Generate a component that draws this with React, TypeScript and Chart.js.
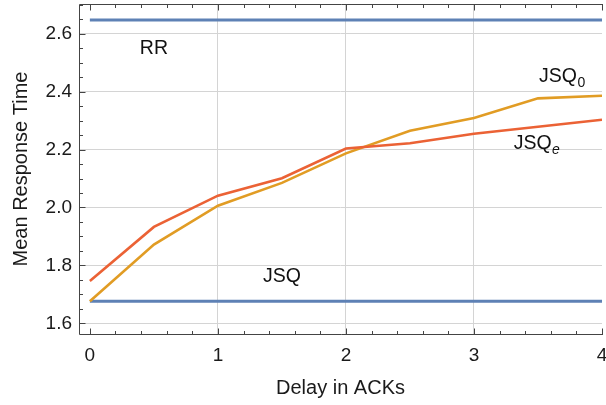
import React, { useEffect, useRef } from "react";
import { Chart, registerables } from "chart.js";

Chart.register(...registerables);

const delays = [0, 0.5, 1, 1.5, 2, 2.5, 3, 3.5, 4];
const jsqEValues = [1.746, 1.933, 2.041, 2.101, 2.204, 2.222, 2.255, 2.279, 2.303];
const jsq0Values = [1.676, 1.872, 2.006, 2.085, 2.187, 2.265, 2.309, 2.377, 2.386];
const rrValue = 2.648;
const jsqValue = 1.676;
const xRange = [0, 4];

const BLUE = "#5E81B5";
const ORANGE = "#E19C24";
const RED = "#EB6235";
const FONT = "'Liberation Sans', Arial, Helvetica, sans-serif";

const annotations = [
  { text: "RR", sub: "", x: 0.5, y: 2.55, align: "center" },
  { text: "JSQ", sub: "", x: 1.5, y: 1.76, align: "center" },
  { text: "JSQ", sub: "0", italic: false, x: 3.508, y: 2.453, align: "left" },
  { text: "JSQ", sub: "e", italic: true, x: 3.31, y: 2.222, align: "left" },
];

const framePlugin = {
  id: "frame",
  afterDatasetsDraw(chart: any) {
    const { ctx, chartArea: a, scales } = chart;
    const xs = scales.x;
    const ys = scales.y;
    ctx.save();
    ctx.strokeStyle = "#444";
    ctx.lineWidth = 1;
    ctx.beginPath();
    const L = Math.round(a.left) + 0.5;
    const B = Math.round(a.bottom) + 0.5;
    const T = Math.round(a.top) + 0.5;
    ctx.moveTo(L, T);
    ctx.lineTo(L, B);
    ctx.lineTo(a.right + 1, B);
    ctx.moveTo(L, T);
    ctx.lineTo(a.right + 1, T);
    for (let i = 0; i <= 20; i++) {
      const v = i * 0.2;
      const px = Math.round(xs.getPixelForValue(v)) + 0.5;
      const major = i % 5 === 0;
      const len = major ? 6 : 3.5;
      ctx.moveTo(px, B);
      ctx.lineTo(px, B - len);
      ctx.moveTo(px, T);
      ctx.lineTo(px, T + len);
    }
    for (let i = 0; i <= 22; i++) {
      const v = 1.6 + i * 0.05;
      if (v > ys.max) break;
      const py = Math.round(ys.getPixelForValue(v)) + 0.5;
      const major = i % 4 === 0;
      const len = major ? 6 : 3.5;
      ctx.moveTo(L, py);
      ctx.lineTo(L + len, py);
    }
    ctx.stroke();

    ctx.fillStyle = "#111";
    ctx.textBaseline = "middle";
    for (const an of annotations) {
      const px = xs.getPixelForValue(an.x);
      const py = ys.getPixelForValue(an.y);
      ctx.font = `19.5px ${FONT}`;
      const w = ctx.measureText(an.text).width;
      const x0 = an.align === "center" ? px - w / 2 : px;
      ctx.textAlign = "left";
      ctx.fillText(an.text, x0, py);
      if (an.sub) {
        ctx.font = `${an.italic ? "italic " : ""}14px ${FONT}`;
        ctx.fillText(an.sub, x0 + w + 0.5, py + 6.5);
      }
    }
    ctx.restore();
  },
};

export default function App() {
  const ref = useRef<HTMLCanvasElement | null>(null);
  useEffect(() => {
    if (!ref.current) return;
    const pts = (vals: number[]) => delays.map((d, i) => ({ x: d, y: vals[i] }));
    const flat = (v: number) => xRange.map((d) => ({ x: d, y: v }));
    const chart = new Chart(ref.current, {
      type: "line",
      data: {
        datasets: [
          { label: "JSQe", data: pts(jsqEValues), borderColor: RED, borderWidth: 2.6 },
          { label: "JSQ0", data: pts(jsq0Values), borderColor: ORANGE, borderWidth: 2.6 },
          { label: "RR", data: flat(rrValue), borderColor: BLUE, borderWidth: 3 },
          { label: "JSQ", data: flat(jsqValue), borderColor: BLUE, borderWidth: 3 },
        ] as any,
      },
      options: {
        animation: false,
        responsive: false,
        devicePixelRatio: 1,
        layout: { padding: { top: 4, right: 4, left: 0, bottom: 0 } },
        elements: { point: { radius: 0 }, line: { tension: 0 } },
        plugins: { legend: { display: false }, tooltip: { enabled: false } },
        scales: {
          x: {
            type: "linear",
            min: -0.085,
            max: 4,
            border: { display: false },
            grid: {
              drawTicks: false,
              color: (c: any) =>
                c.tick && (c.tick.value === 0 || c.tick.value === 4) ? "rgba(0,0,0,0)" : "#d4d4d4",
              lineWidth: 1,
            },
            ticks: {
              stepSize: 1,
              includeBounds: false,
              padding: 10,
              color: "#1a1a1a",
              font: { family: FONT, size: 19 },
              callback: (v: any) => String(v),
              maxRotation: 0,
              autoSkip: false,
            },
            title: {
              display: true,
              text: "Delay in ACKs",
              color: "#1a1a1a",
              font: { family: FONT, size: 20 },
              padding: { top: 0, bottom: 5 },
            },
            afterFit: (s: any) => {
              s.height = 71;
              s.paddingLeft = 0;
              s.paddingRight = 0;
            },
          },
          y: {
            type: "linear",
            min: 1.563,
            max: 2.703,
            border: { display: false },
            grid: { drawTicks: false, color: "#d4d4d4", lineWidth: 1 },
            ticks: {
              stepSize: 0.2,
              includeBounds: false,
              padding: 7,
              color: "#1a1a1a",
              font: { family: FONT, size: 19 },
              callback: (v: any) => Number(v).toFixed(1),
              autoSkip: false,
            },
            title: {
              display: true,
              text: "Mean Response Time",
              color: "#1a1a1a",
              font: { family: FONT, size: 20 },
              padding: { top: 9, bottom: 0 },
            },
            afterFit: (s: any) => {
              s.width = 79;
              s.paddingTop = 0;
              s.paddingBottom = 0;
            },
          },
        },
      },
      plugins: [framePlugin],
    });
    return () => chart.destroy();
  }, []);
  return (
    <div style={{ position: "absolute", left: 0, top: 0, width: 606, height: 405, background: "#fff" }}>
      <canvas ref={ref} width={606} height={405} style={{ display: "block" }} />
    </div>
  );
}
